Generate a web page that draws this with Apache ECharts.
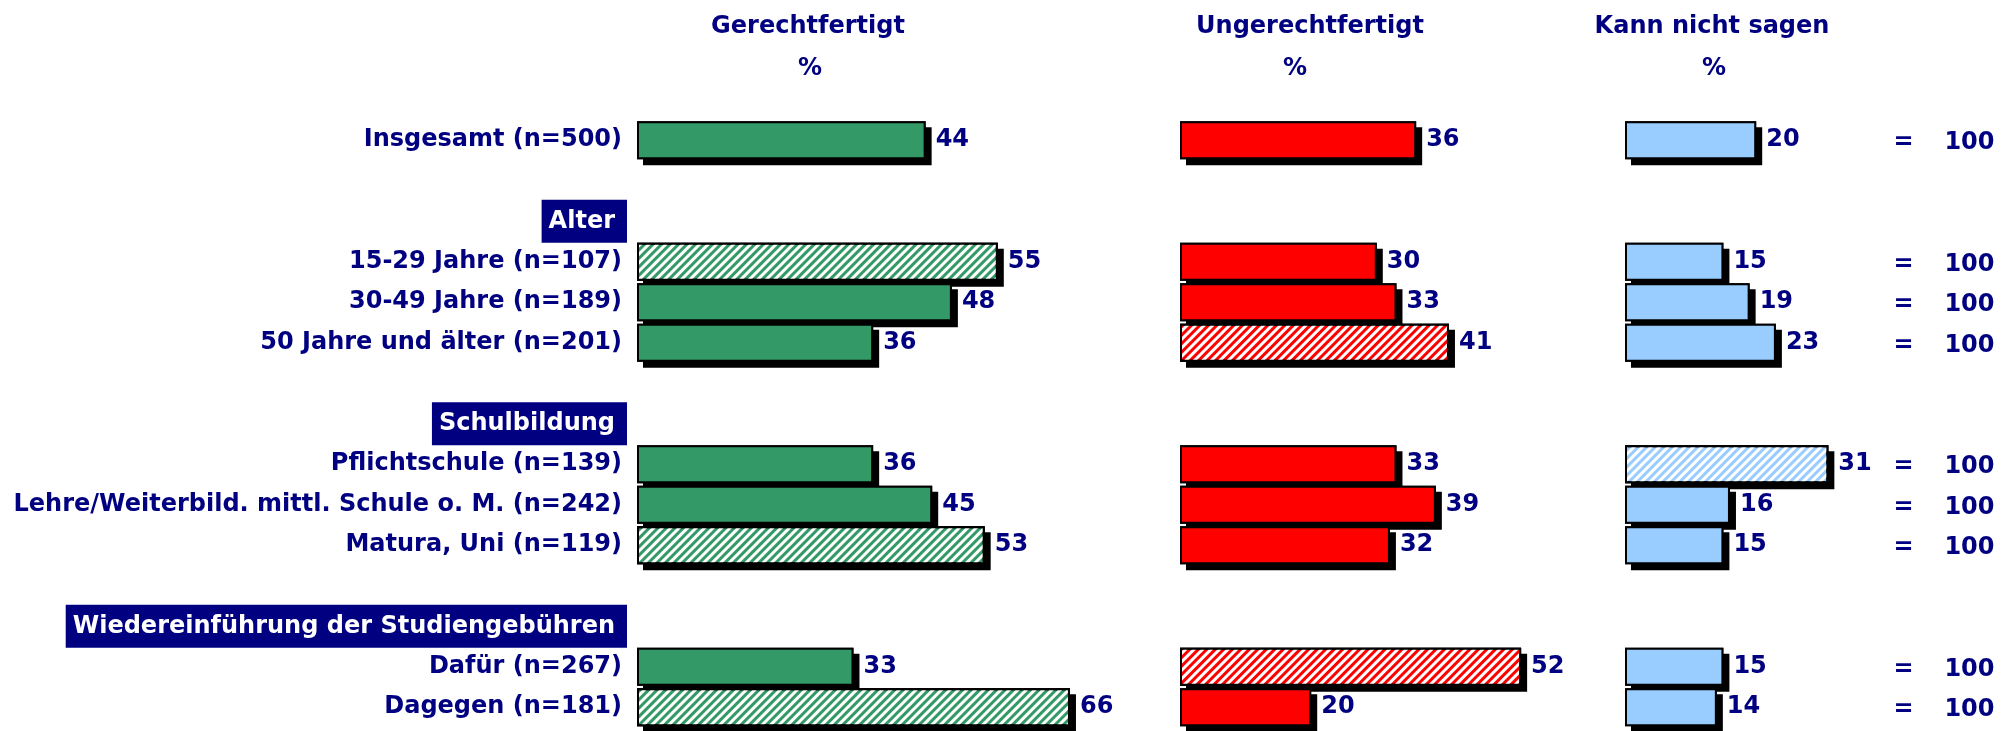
<!DOCTYPE html>
<html>
<head>
<meta charset="utf-8">
<script src="https://cdn.jsdelivr.net/npm/echarts@6/dist/echarts.min.js"></script>
<style>
  html, body { margin: 0; padding: 0; background: #fff; }
  #chart { width: 2011px; height: 731px; }
</style>
</head>
<body>
<div id="chart"></div>
<script>
// Zeilen (leere Einträge = Abstand, Überschriften = Gruppentitel)
var categories = ['Insgesamt (n=500)', ' ', 'Alter', '15-29 Jahre (n=107)', '30-49 Jahre (n=189)',
    '50 Jahre und älter (n=201)', '  ', 'Schulbildung', 'Pflichtschule (n=139)',
    'Lehre/Weiterbild. mittl. Schule o. M. (n=242)', 'Matura, Uni (n=119)', '   ',
    'Wiedereinführung der Studiengebühren', 'Dafür (n=267)', 'Dagegen (n=181)'];
var headers = ['Alter', 'Schulbildung', 'Wiedereinführung der Studiengebühren'];

var gerechtfertigt   = [44, '-', '-', 55, 48, 36, '-', '-', 36, 45, 53, '-', '-', 33, 66];
var ungerechtfertigt = [36, '-', '-', 30, 33, 41, '-', '-', 33, 39, 32, '-', '-', 52, 20];
var kannNichtSagen   = [20, '-', '-', 15, 19, 23, '-', '-', 31, 16, 15, '-', '-', 15, 14];
var summe            = [100, '-', '-', 100, 100, 100, '-', '-', 100, 100, 100, '-', '-', 100, 100];

// signifikant abweichende Werte (schraffiert)
var sigGerecht   = [3, 10, 14];
var sigUngerecht = [5, 13];
var sigKann      = [8];

var FONT = 'DejaVu Sans';
var NAVY = '#000080';

function hatch() {
    return {
        symbol: 'rect',
        symbolSize: 1,
        dashArrayX: [1, 0],
        dashArrayY: [3, 3],
        rotation: -Math.PI / 4,
        color: '#ffffff'
    };
}

function buildData(values, sig) {
    return values.map(function (v, i) {
        if (sig.indexOf(i) >= 0) {
            return { value: v, itemStyle: { decal: hatch() } };
        }
        return v;
    });
}

// Schatten-Balken (unten) - schwarzer Versatz ohne Unschärfe
function shadowSeries(values, color, idx) {
    return {
        type: 'bar',
        xAxisIndex: idx,
        yAxisIndex: idx,
        barWidth: 38,
        barGap: '-100%',
        silent: true,
        data: values,
        itemStyle: {
            color: color,
            borderColor: '#000',
            borderWidth: 2,
            shadowColor: '#000',
            shadowBlur: 0,
            shadowOffsetX: 6,
            shadowOffsetY: 6
        },
        animation: false
    };
}

function barSeries(values, sig, color, idx) {
    return {
        type: 'bar',
        xAxisIndex: idx,
        yAxisIndex: idx,
        barWidth: 38,
        barGap: '-100%',
        data: buildData(values, sig),
        itemStyle: {
            color: color,
            borderColor: '#000',
            borderWidth: 2
        },
        label: {
            show: true,
            position: 'right',
            distance: 10,
            color: NAVY,
            fontFamily: FONT,
            fontWeight: 'bold',
            fontSize: 24
        },
        animation: false
    };
}

var chart = echarts.init(document.getElementById('chart'));

var gridTop = 120, gridH = 607.5;
var scale = 6.56;  // px pro Prozentpunkt

var titleStyle = { color: NAVY, fontFamily: FONT, fontWeight: 'bold', fontSize: 24 };

chart.setOption({
    backgroundColor: '#fff',
    title: [
        { text: 'Gerechtfertigt', left: 803, top: 10, textAlign: 'center', textStyle: titleStyle },
        { text: '%', left: 805, top: 52, textAlign: 'center', textStyle: titleStyle },
        { text: 'Ungerechtfertigt', left: 1305, top: 10, textAlign: 'center', textStyle: titleStyle },
        { text: '%', left: 1290, top: 52, textAlign: 'center', textStyle: titleStyle },
        { text: 'Kann nicht sagen', left: 1707, top: 10, textAlign: 'center', textStyle: titleStyle },
        { text: '%', left: 1709, top: 52, textAlign: 'center', textStyle: titleStyle }
    ],
    grid: [
        { left: 637, top: gridTop, width: 70 * scale, height: gridH },
        { left: 1180, top: gridTop, width: 60 * scale, height: gridH },
        { left: 1625, top: gridTop, width: 40 * scale, height: gridH }
    ],
    xAxis: [
        { gridIndex: 0, type: 'value', min: 0, max: 70, show: false },
        { gridIndex: 1, type: 'value', min: 0, max: 60, show: false },
        { gridIndex: 2, type: 'value', min: 0, max: 40, show: false }
    ],
    yAxis: [
        {
            gridIndex: 0, type: 'category', inverse: true, data: categories,
            axisLine: { show: false }, axisTick: { show: false }, splitLine: { show: false },
            axisLabel: {
                margin: 10,
                interval: 0,
                formatter: function (v) {
                    if (headers.indexOf(v) >= 0) return '{h|' + v + '}';
                    return '{n|' + v + '}';
                },
                rich: {
                    n: { color: NAVY, fontFamily: FONT, fontWeight: 'bold', fontSize: 24, padding: [0, 5, 0, 0] },
                    h: {
                        color: '#fff', backgroundColor: NAVY, fontFamily: FONT, fontWeight: 'bold',
                        fontSize: 24, lineHeight: 28, padding: [10, 12, 9, 7]
                    }
                }
            }
        },
        { gridIndex: 1, type: 'category', inverse: true, data: categories, show: false },
        { gridIndex: 2, type: 'category', inverse: true, data: categories, show: false },
        {
            gridIndex: 2, type: 'category', inverse: true, data: categories, position: 'right',
            axisLine: { show: false }, axisTick: { show: false }, splitLine: { show: false },
            axisLabel: {
                margin: 6,
                interval: 0,
                formatter: function (v, i) {
                    if (summe[i] === '-') return '';
                    return '{eq|=}{v|' + summe[i] + '}';
                },
                rich: {
                    eq: { color: NAVY, fontFamily: FONT, fontWeight: 'bold', fontSize: 24, width: 51, padding: [6, 0, 0, 0] },
                    v: { color: NAVY, fontFamily: FONT, fontWeight: 'bold', fontSize: 24, padding: [6, 0, 0, 0] }
                }
            }
        }
    ],
    series: [
        shadowSeries(gerechtfertigt, '#339966', 0),
        barSeries(gerechtfertigt, sigGerecht, '#339966', 0),
        shadowSeries(ungerechtfertigt, '#ff0000', 1),
        barSeries(ungerechtfertigt, sigUngerecht, '#ff0000', 1),
        shadowSeries(kannNichtSagen, '#99ccff', 2),
        barSeries(kannNichtSagen, sigKann, '#99ccff', 2)
    ]
});
</script>
</body>
</html>
